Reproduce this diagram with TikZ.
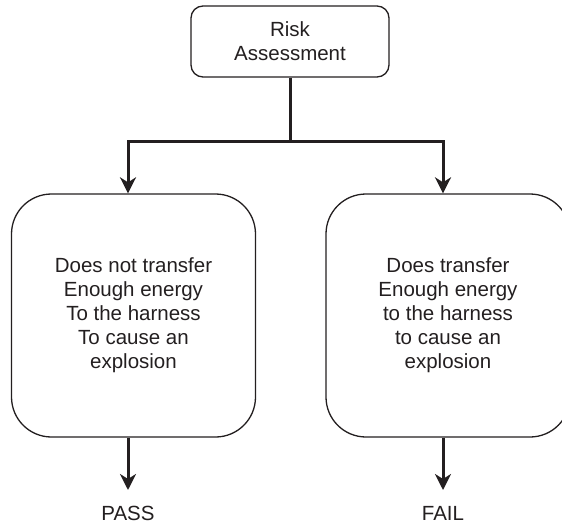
\documentclass[tikz,border=0pt]{standalone}
\usepackage{fontspec}
\setmainfont{Liberation Sans}
\usepackage{xcolor}
\usetikzlibrary{arrows.meta, positioning}
\definecolor{ink}{RGB}{35,31,32}

\begin{document}
\begin{tikzpicture}[
    x=1pt, y=-1pt,
    every node/.style={text=ink, font=\fontsize{20.5}{24}\selectfont},
    topbox/.style={rectangle, draw=ink, line width=1.3pt, rounded corners=12pt,
        minimum width=198pt, minimum height=71pt, align=center},
    casebox/.style={rectangle, draw=ink, line width=1.3pt, rounded corners=40pt,
        minimum width=244pt, minimum height=243pt, align=center},
    outcome/.style={inner sep=0pt},
    stem/.style={line width=3pt, color=ink},
    arrow/.style={stem, -{Stealth[length=16pt, width=16pt, inset=5pt]}}
]
\useasboundingbox (0,0) rectangle (562,525);

\node[topbox]  (risk)   at (290,41.5)  {Risk\\Assessment};
\node[casebox] (nopass) at (133.5,315.5) {Does not transfer\\Enough energy\\To the harness\\To cause an\\explosion};
\node[casebox] (dofail) at (448,315.5) {Does transfer\\Enough energy\\to the harness\\to cause an\\explosion};

\coordinate (split)    at (290,141);
\coordinate (passtip)  at (128,490);
\coordinate (failtip)  at (443,490);
\node[outcome, below=16pt of passtip] (pass) {PASS};
\node[outcome, below=16pt of failtip] (fail) {FAIL};

\draw[stem]  (risk) -- (split);
\draw[arrow] (split) -| (nopass.north -| passtip);
\draw[arrow] (split) -| (dofail.north -| failtip);
\draw[arrow] (nopass.south -| passtip) -- (passtip);
\draw[arrow] (dofail.south -| failtip) -- (failtip);
\end{tikzpicture}
\end{document}
